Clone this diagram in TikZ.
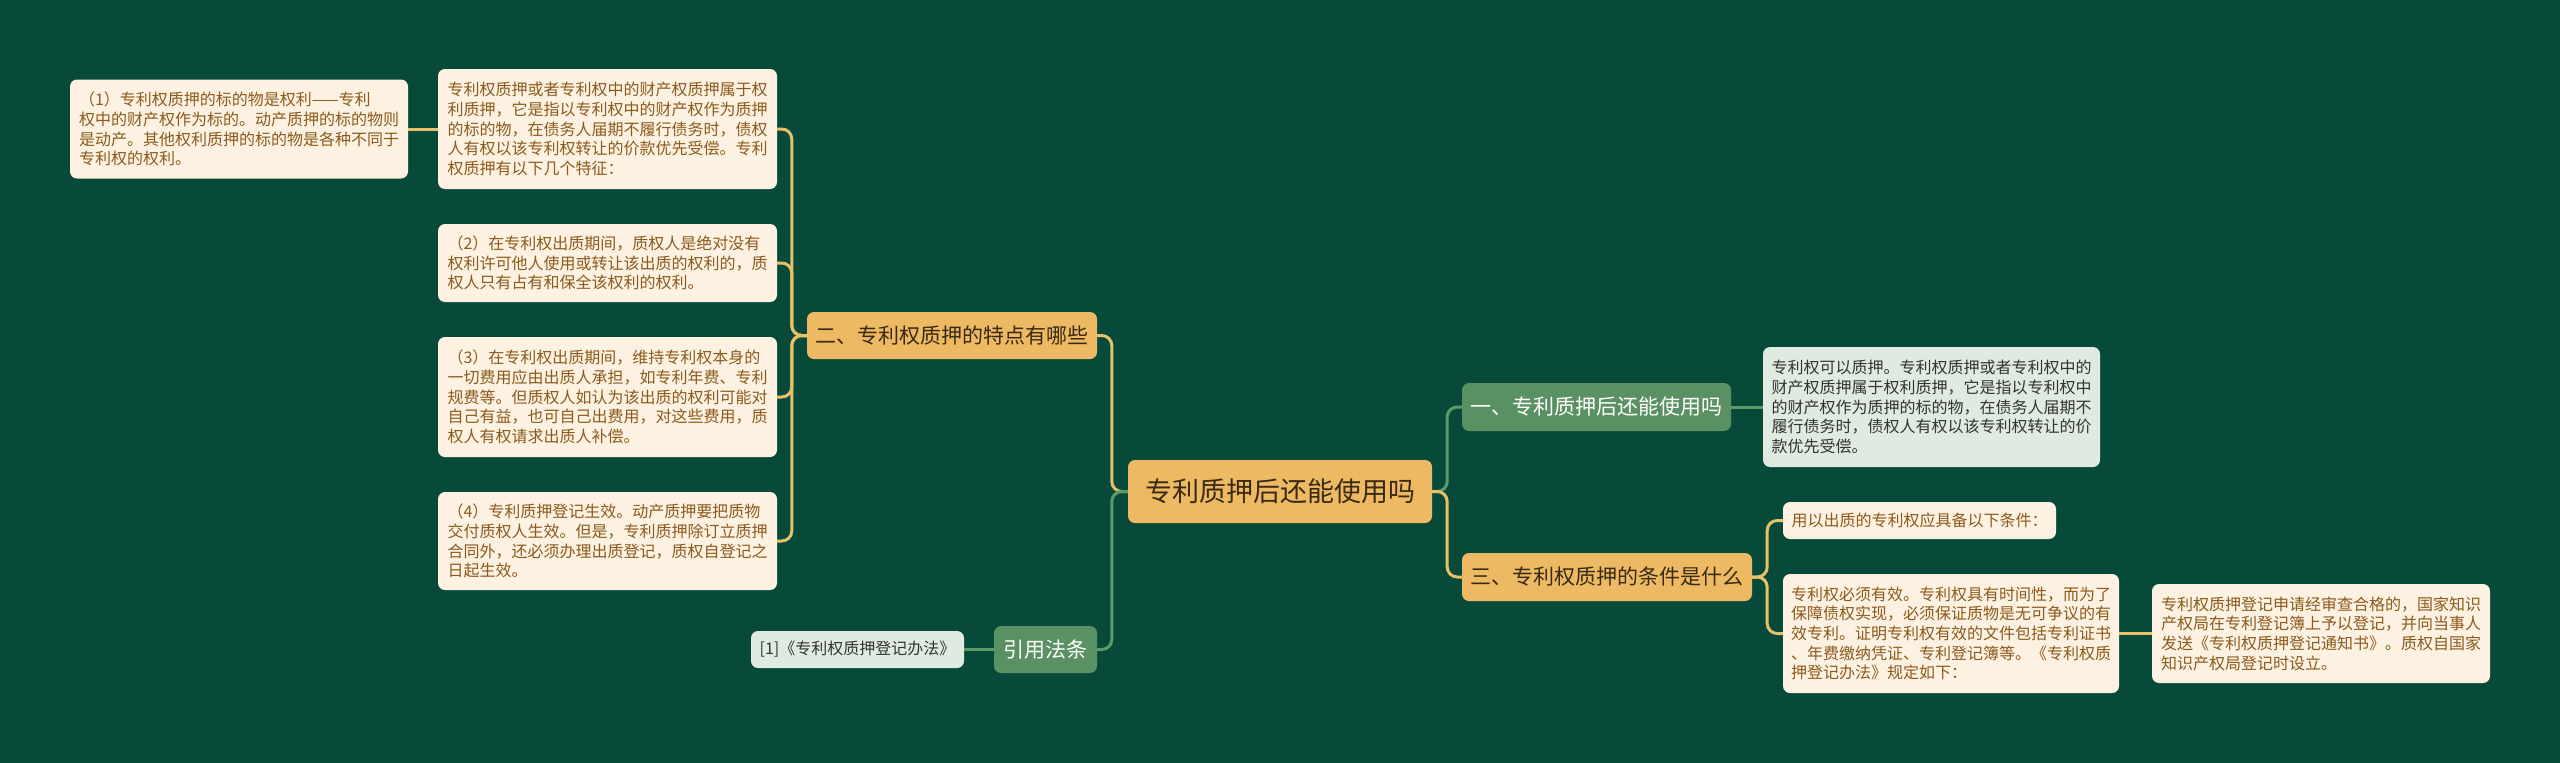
\documentclass[tikz,border=0pt]{standalone}
\usepackage{fontspec}
\usepackage{xcolor}
\usepackage{tikz}
\newfontfamily\cjk{Noto Sans CJK SC}
\definecolor{bgc}{HTML}{084A3A}
\definecolor{rootfill}{HTML}{EDB963}
\definecolor{greenfill}{HTML}{5A9162}
\definecolor{creamfill}{HTML}{FDF1E1}
\definecolor{palefill}{HTML}{DFEBE1}
\definecolor{darktext}{HTML}{3A2A12}
\definecolor{browntext}{HTML}{8C5A1C}
\definecolor{greytext}{HTML}{333333}
\definecolor{oline}{HTML}{E8C068}
\definecolor{gline}{HTML}{5E9A68}

\begin{document}
\begin{tikzpicture}[
  x=1pt,y=-1pt,
  every node/.style={rounded corners=7pt,align=left,inner sep=7pt},
  rootbox/.style={fill=rootfill,text=darktext,font=\cjk\fontsize{27}{32}\selectfont},
  obranch/.style={fill=rootfill,text=darktext,font=\cjk\fontsize{21}{25}\selectfont},
  gbranch/.style={fill=greenfill,text=white,font=\cjk\fontsize{21}{25}\selectfont},
  leaf/.style={fill=creamfill,text=browntext,font=\cjk\fontsize{16}{19.7}\selectfont},
  gleaf/.style={fill=palefill,text=greytext,font=\cjk\fontsize{16}{19.7}\selectfont},
  olink/.style={draw=oline,line width=3pt,rounded corners=10pt},
  glink/.style={draw=gline,line width=3pt,rounded corners=10pt}
]
\fill[bgc] (0,0) rectangle (2560,763);
\useasboundingbox (0,0) rectangle (2560,763);

% centre and branches
\node[rootbox,minimum width=304,minimum height=63] (root) at (1280,491.5) {专利质押后还能使用吗};
\node[obranch,minimum width=290,minimum height=47] (feat) at (952,335.5) {二、专利权质押的特点有哪些};
\node[gbranch,minimum width=269,minimum height=48] (use) at (1596.5,407) {一、专利质押后还能使用吗};
\node[obranch,minimum width=290,minimum height=48] (cond) at (1607,577) {三、专利权质押的条件是什么};
\node[gbranch,minimum width=103,minimum height=47] (law) at (1045.5,649.5) {引用法条};
\node[gleaf,minimum width=213,minimum height=37] (lawref) at (857.5,649.5) {[1]《专利权质押登记办法》};

% left side leaves
\node[leaf,minimum width=339,minimum height=120] (feat0) at (607.5,129) {专利权质押或者专利权中的财产权质押属于权\\利质押，它是指以专利权中的财产权作为质押\\的标的物，在债务人届期不履行债务时，债权\\人有权以该专利权转让的价款优先受偿。专利\\权质押有以下几个特征：};
\node[leaf,minimum width=338,minimum height=99] (feat1) at (239,129) {（1）专利权质押的标的物是权利——专利\\权中的财产权作为标的。动产质押的标的物则\\是动产。其他权利质押的标的物是各种不同于\\专利权的权利。};
\node[leaf,minimum width=339,minimum height=78] (feat2) at (607.5,263) {（2）在专利权出质期间，质权人是绝对没有\\权利许可他人使用或转让该出质的权利的，质\\权人只有占有和保全该权利的权利。};
\node[leaf,minimum width=339,minimum height=120] (feat3) at (607.5,397) {（3）在专利权出质期间，维持专利权本身的\\一切费用应由出质人承担，如专利年费、专利\\规费等。但质权人如认为该出质的权利可能对\\自己有益，也可自己出费用，对这些费用，质\\权人有权请求出质人补偿。};
\node[leaf,minimum width=339,minimum height=98] (feat4) at (607.5,541) {（4）专利质押登记生效。动产质押要把质物\\交付质权人生效。但是，专利质押除订立质押\\合同外，还必须办理出质登记，质权自登记之\\日起生效。};

% right side leaves
\node[gleaf,minimum width=337,minimum height=120] (useleaf) at (1931.5,407) {专利权可以质押。专利权质押或者专利权中的\\财产权质押属于权利质押，它是指以专利权中\\的财产权作为质押的标的物，在债务人届期不\\履行债务时，债权人有权以该专利权转让的价\\款优先受偿。};
\node[leaf,minimum width=273,minimum height=37] (cond1) at (1919.5,520.5) {用以出质的专利权应具备以下条件：};
\node[leaf,minimum width=336,minimum height=119] (cond2) at (1951,633.5) {专利权必须有效。专利权具有时间性，而为了\\保障债权实现，必须保证质物是无可争议的有\\效专利。证明专利权有效的文件包括专利证书\\、年费缴纳凭证、专利登记簿等。《专利权质\\押登记办法》规定如下：};
\node[leaf,minimum width=338,minimum height=99] (cond3) at (2321,633.5) {专利权质押登记申请经审查合格的，国家知识\\产权局在专利登记簿上予以登记，并向当事人\\发送《专利权质押登记通知书》。质权自国家\\知识产权局登记时设立。};

% links
\coordinate (rl) at ([xshift=-16]root.west);
\coordinate (rr) at ([xshift=15]root.east);
\coordinate (fl) at ([xshift=-15]feat.west);
\coordinate (cl) at ([xshift=15]cond.east);
\draw[olink] (feat.east) -| (rl) [sharp corners] -- (root.west);
\draw[glink] (law.east) -| (rl) [sharp corners] -- (root.west);
\draw[glink] (use.west) -| (rr) [sharp corners] -- (root.east);
\draw[olink] (cond.west) -| (rr) [sharp corners] -- (root.east);
\foreach \n in {feat0,feat2,feat3,feat4}
  \draw[olink] (\n.east) -| (fl) [sharp corners] -- (feat.west);
\draw[olink] (feat0.west) -- (feat1.east);
\draw[glink] (use.east) -- (useleaf.west);
\draw[glink] (law.west) -- (lawref.east);
\foreach \n in {cond1,cond2}
  \draw[olink] (\n.west) -| (cl) [sharp corners] -- (cond.east);
\draw[olink] (cond2.east) -- (cond3.west);
\end{tikzpicture}
\end{document}
